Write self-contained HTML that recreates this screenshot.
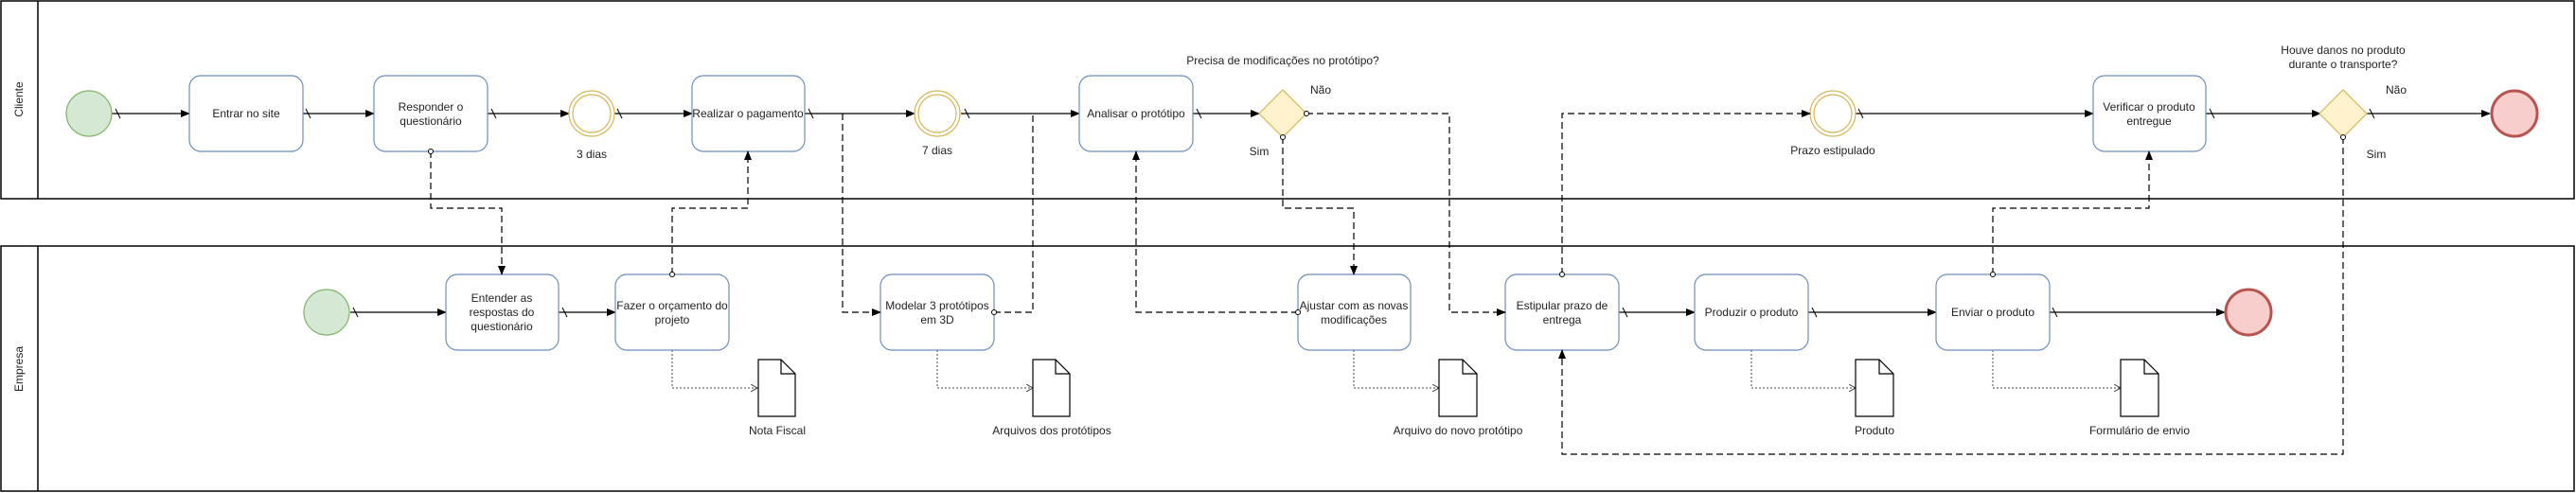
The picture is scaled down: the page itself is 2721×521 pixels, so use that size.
<!DOCTYPE html>
<html><head><meta charset="utf-8"><style>
html,body{margin:0;padding:0;background:#fff;}
svg{display:block;}
text{font-family:"Liberation Sans",sans-serif;font-size:12px;fill:#222;}
</style></head><body>
<svg width="2721" height="521" viewBox="0 0 2721 521" xmlns="http://www.w3.org/2000/svg">
<defs>
<marker id="a" markerWidth="10" markerHeight="8" refX="9" refY="4" orient="auto" markerUnits="userSpaceOnUse"><path d="M0,0 L10,4 L0,8 Z" fill="#000"/></marker>
<marker id="o" markerWidth="8" markerHeight="8" refX="4" refY="4" orient="auto" markerUnits="userSpaceOnUse"><circle cx="4" cy="4" r="2.5" fill="#fff" stroke="#000" stroke-width="1"/></marker>
<marker id="d" markerWidth="8" markerHeight="8" refX="7" refY="4" orient="auto" markerUnits="userSpaceOnUse"><path d="M0,0 L7,4 L0,8" fill="none" stroke="#444" stroke-width="1"/></marker>
</defs>
<g fill="none" stroke="#000" stroke-width="1.5">
<rect x="1" y="1" width="2718" height="209"/>
<line x1="40" y1="1" x2="40" y2="210"/>
<rect x="1" y="260" width="2718" height="259"/>
<line x1="40" y1="260" x2="40" y2="519"/>
</g>
<text transform="translate(24,105) rotate(-90)" text-anchor="middle">Cliente</text>
<text transform="translate(24,390) rotate(-90)" text-anchor="middle">Empresa</text>

<g stroke="#000" stroke-width="1.2" fill="none" marker-end="url(#a)">
<line x1="118" y1="120" x2="200" y2="120"/>
<line x1="320" y1="120" x2="395" y2="120"/>
<line x1="515" y1="120" x2="601" y2="120"/>
<line x1="649" y1="120" x2="731" y2="120"/>
<line x1="850" y1="120" x2="966" y2="120"/>
<line x1="1015" y1="120" x2="1140" y2="120"/>
<line x1="1260" y1="120" x2="1330" y2="120"/>
<line x1="1960" y1="120" x2="2211" y2="120"/>
<line x1="2330" y1="120" x2="2451" y2="120"/>
<line x1="2500" y1="120" x2="2630" y2="120"/>
<line x1="370" y1="330" x2="471" y2="330"/>
<line x1="590" y1="330" x2="650" y2="330"/>
<line x1="1710" y1="330" x2="1790" y2="330"/>
<line x1="1910" y1="330" x2="2045" y2="330"/>
<line x1="2165" y1="330" x2="2350" y2="330"/>
</g>
<g stroke="#000" stroke-width="1">
<path d="M122,115 l5,10 M323,115 l5,10 M519,115 l5,10 M652,115 l5,10 M854,115 l5,10 M1019,115 l5,10 M1264,115 l5,10 M1963,115 l5,10 M2334,115 l5,10 M2503,115 l5,10 M373,325 l5,10 M594,325 l5,10 M1714,325 l5,10 M1914,325 l5,10 M2168,325 l5,10"/>
</g>
<g stroke="#444" stroke-width="1" fill="none" stroke-dasharray="2,2" marker-end="url(#d)">
<path d="M710,370 V410 H800"/>
<path d="M990,370 V410 H1091"/>
<path d="M1430,370 V410 H1520"/>
<path d="M1850,370 V410 H1960"/>
<path d="M2105,370 V410 H2240"/>
</g>

<g fill="#fff" stroke="#6c8ebf" stroke-width="1.2">
<rect x="200" y="80" width="120" height="80" rx="12"/>
<rect x="395" y="80" width="120" height="80" rx="12"/>
<rect x="731" y="80" width="119" height="80" rx="12"/>
<rect x="1140" y="80" width="120" height="80" rx="12"/>
<rect x="2211" y="80" width="119" height="80" rx="12"/>
<rect x="471" y="290" width="119" height="80" rx="12"/>
<rect x="650" y="290" width="120" height="80" rx="12"/>
<rect x="930" y="290" width="120" height="80" rx="12"/>
<rect x="1371" y="290" width="119" height="80" rx="12"/>
<rect x="1590" y="290" width="120" height="80" rx="12"/>
<rect x="1790" y="290" width="120" height="80" rx="12"/>
<rect x="2045" y="290" width="120" height="80" rx="12"/>
</g>
<g text-anchor="middle">
<text x="260" y="124">Entrar no site</text>
<text x="455" y="117">Responder o</text><text x="455" y="132">questionário</text>
<text x="790" y="124">Realizar o pagamento</text>
<text x="1200" y="124">Analisar o protótipo</text>
<text x="2270" y="117">Verificar o produto</text><text x="2270" y="132">entregue</text>
<text x="530" y="319">Entender as</text><text x="530" y="334">respostas do</text><text x="530" y="349">questionário</text>
<text x="710" y="327">Fazer o orçamento do</text><text x="710" y="342">projeto</text>
<text x="990" y="327">Modelar 3 protótipos</text><text x="990" y="342">em 3D</text>
<text x="1430" y="327">Ajustar com as novas</text><text x="1430" y="342">modificações</text>
<text x="1650" y="327">Estipular prazo de</text><text x="1650" y="342">entrega</text>
<text x="1850" y="334">Produzir o produto</text>
<text x="2105" y="334">Enviar o produto</text>
</g>

<circle cx="94" cy="120" r="24" fill="#d5e8d4" stroke="#82b366" stroke-width="1.2"/>
<circle cx="345" cy="330" r="24" fill="#d5e8d4" stroke="#82b366" stroke-width="1.2"/>
<g fill="#fff" stroke="#d6b656" stroke-width="1.2">
<circle cx="625" cy="120" r="24"/><circle cx="625" cy="120" r="20"/>
<circle cx="990" cy="120" r="24"/><circle cx="990" cy="120" r="20"/>
<circle cx="1936" cy="120" r="24"/><circle cx="1936" cy="120" r="20"/>
</g>
<circle cx="2656" cy="120" r="24" fill="#f8cecc" stroke="#b85450" stroke-width="3"/>
<circle cx="2375" cy="330" r="24" fill="#f8cecc" stroke="#b85450" stroke-width="3"/>
<g fill="#fff2cc" stroke="#d6b656" stroke-width="1.2">
<path d="M1355,95 L1380,120 L1355,145 L1330,120 Z"/>
<path d="M2475,95 L2500,120 L2475,145 L2450,120 Z"/>
</g>

<g stroke="#000" stroke-width="1.2" fill="none" stroke-dasharray="7,4">
<path d="M455,160 V220 H530 V290" marker-start="url(#o)" marker-end="url(#a)"/>
<path d="M710,290 V220 H790 V160" marker-start="url(#o)" marker-end="url(#a)"/>
<path d="M890,120 V330 H930" marker-end="url(#a)"/>
<path d="M1050,330 H1091 V120" marker-start="url(#o)"/>
<path d="M1380,120 H1531 V330 H1590" marker-start="url(#o)" marker-end="url(#a)"/>
<path d="M1355,145 V220 H1430 V290" marker-start="url(#o)" marker-end="url(#a)"/>
<path d="M1371,330 H1200 V160" marker-start="url(#o)" marker-end="url(#a)"/>
<path d="M1650,290 V120 H1912" marker-start="url(#o)" marker-end="url(#a)"/>
<path d="M2105,290 V220 H2270 V160" marker-start="url(#o)" marker-end="url(#a)"/>
<path d="M2475,145 V480 H1650 V370" marker-start="url(#o)" marker-end="url(#a)"/>
</g>

<g fill="#fff" stroke="#000" stroke-width="1.2">
<path d="M801,380 H825 L840,395 V440 H801 Z M825,380 V395 H840"/>
<path d="M1091,380 H1115 L1130,395 V440 H1091 Z M1115,380 V395 H1130"/>
<path d="M1520,380 H1545 L1560,395 V440 H1520 Z M1545,380 V395 H1560"/>
<path d="M1960,380 H1985 L2000,395 V440 H1960 Z M1985,380 V395 H2000"/>
<path d="M2240,380 H2265 L2280,395 V440 H2240 Z M2265,380 V395 H2280"/>
</g>
<g text-anchor="middle">
<text x="625" y="167">3 dias</text>
<text x="990" y="163">7 dias</text>
<text x="1936" y="163">Prazo estipulado</text>
<text x="1355" y="68">Precisa de modificações no protótipo?</text>
<text x="1395" y="99">Não</text>
<text x="1330" y="164">Sim</text>
<text x="2475" y="57">Houve danos no produto</text>
<text x="2475" y="72">durante o transporte?</text>
<text x="2531" y="99">Não</text>
<text x="2510" y="167">Sim</text>
<text x="821" y="459">Nota Fiscal</text>
<text x="1111" y="459">Arquivos dos protótipos</text>
<text x="1540" y="459">Arquivo do novo protótipo</text>
<text x="1980" y="459">Produto</text>
<text x="2260" y="459">Formulário de envio</text>
</g>
</svg>
</body></html>
